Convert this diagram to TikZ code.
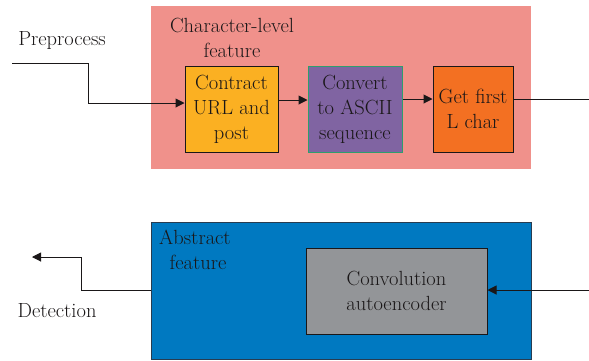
\documentclass[tikz,border=0pt]{standalone}
\usetikzlibrary{arrows.meta}
\definecolor{txt}{HTML}{1A1718}
\definecolor{pinkbg}{HTML}{F0918B}
\definecolor{ambr}{HTML}{FBB022}
\definecolor{purp}{HTML}{8064A2}
\definecolor{orng}{HTML}{F37022}
\definecolor{blubg}{HTML}{0079C1}
\definecolor{gryb}{HTML}{939598}
\definecolor{grnedge}{HTML}{2E9E6E}
\begin{document}
\begin{tikzpicture}[x=1pt,y=-1pt,
  lbl/.style={font=\fontsize{20.5}{25}\selectfont, text=txt, align=center, inner sep=0pt},
  stepbox/.style={draw=txt, line width=1pt, inner sep=0pt, font=\fontsize{20.5}{25}\selectfont, text=txt, align=center},
  conn/.style={draw=txt, line width=1pt},
  arr/.style={conn, -{Triangle[length=9pt,width=9pt]}}]
\useasboundingbox (0,0) rectangle (589,360);
% character-level stage
\fill[pinkbg] (151,6) rectangle (531,169);
\node[lbl] (chtitle) at (232,38) {Character-level\\feature};
\node[stepbox, fill=ambr, minimum width=93pt, minimum height=86pt] (contract) at (231.5,109) {Contract\\URL and\\post};
\node[stepbox, fill=purp, draw=grnedge, minimum width=94pt, minimum height=86pt] (convert) at (355,109) {Convert\\to ASCII\\sequence};
\node[stepbox, fill=orng, minimum width=80pt, minimum height=86pt] (getl) at (473,109) {Get first\\L char};
% abstract stage
\node[draw={rgb,255:red,40;green,60;blue,80}, line width=1pt, fill=blubg, minimum width=380pt, minimum height=137pt, inner sep=0pt] (abs) at (341,290.5) {};
\node[lbl, anchor=north west] (abstitle) at (159,230) {Abstract\\\ feature};
\node[stepbox, fill=gryb, minimum width=181pt, minimum height=86pt] (cae) at (396.5,291) {Convolution\\autoencoder};
% inputs and outputs
\node[lbl] (prep) at (62,40) {Preprocess};
\node[lbl] (det) at (57,311) {Detection};
\coordinate (pin) at (12,63);
\coordinate (gout) at (589,99);
\coordinate (cin) at (589,290);
\coordinate (dout) at (32,257);
\draw[arr] (pin) -- (88,63) |- (contract.west |- 0,103);
\draw[arr] (contract.east |- 0,100) -- (convert.west |- 0,100);
\draw[arr] (convert.east |- 0,99) -- (getl.west |- 0,99);
\draw[conn] (getl.east |- 0,99) -- (gout);
\draw[arr] (cin) -- (cae.east |- cin);
\draw[arr] (abs.west |- 0,290) -| (81,257) -- (dout);
\end{tikzpicture}
\end{document}
